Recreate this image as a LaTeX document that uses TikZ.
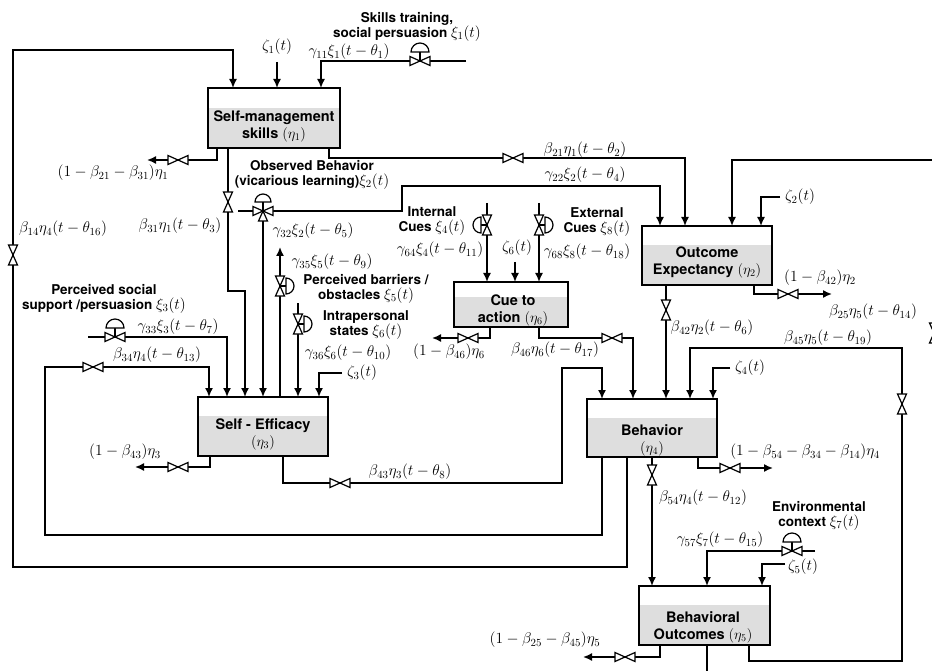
\RequirePackage{fix-cm}
\documentclass[tikz,border=0pt]{standalone}
\usepackage{fontspec}
\setsansfont{TeX Gyre Heros}
\usetikzlibrary{arrows.meta,calc,positioning}

\begin{document}
\begin{tikzpicture}[x=1pt,y=-1pt,>={Latex[length=9pt,width=8pt]},
  flow/.style={->,line width=1.6pt},
  block/.style={draw,line width=1.6pt,inner sep=0pt,outer sep=0pt,
    path picture={\fill[black!13] ($(path picture bounding box.north west)!0.33!(path picture bounding box.south west)$) rectangle (path picture bounding box.south east);}},
  boxtext/.style={font=\sffamily\bfseries\fontsize{14.5}{17}\selectfont,align=center,inner sep=0pt},
  tag/.style={font=\sffamily\bfseries\fontsize{13.5}{15}\selectfont,align=center,inner sep=0pt},
  eq/.style={font=\fontsize{15.5}{18}\selectfont,inner sep=0pt},
  valve/.pic={\filldraw[fill=white,line width=1.2pt] (-10,-4.5) -- (-10,4.5) -- (10,-4.5) -- (10,4.5) -- cycle;},
  ctrlvalve/.pic={
    \draw[line width=1.2pt] (0,0) -- (0,-9);
    \filldraw[fill=white,line width=1.2pt] (9,-9) arc[start angle=0,end angle=-180,radius=9] -- cycle;
    \pic {valve};},
  sidevalve/.pic={
    \draw[line width=1.2pt] (0,0) -- (6,0);
    \filldraw[fill=white,line width=1.2pt] (6,-8) -- (6,8) arc[start angle=90,end angle=-90,radius=8] -- cycle;
    \pic[rotate=90] {valve};},
  threeway/.pic={
    \draw[line width=1.2pt] (0,0) -- (0,-9);
    \filldraw[fill=white,line width=1.2pt] (8,-9) arc[start angle=0,end angle=-180,radius=8] -- cycle;
    \filldraw[fill=white,line width=1.2pt] (0,0) -- (-4.5,10) -- (4.5,10) -- cycle;
    \pic {valve};}]
  \useasboundingbox (0,0) rectangle (932,671);

  \node[block,minimum width=132pt,minimum height=60pt] (SM) at (274,118) {};
  \node[block,minimum width=130pt,minimum height=59pt] (OE) at (707,255.5) {};
  \node[block,minimum width=114pt,minimum height=45pt] (CA) at (511,304.5) {};
  \node[block,minimum width=130pt,minimum height=59pt] (SE) at (263,426.5) {};
  \node[block,minimum width=130pt,minimum height=58pt] (BH) at (652,428) {};
  \node[block,minimum width=131pt,minimum height=59pt] (BO) at (704.5,615.5) {};

  \node[boxtext] (SMt) at (274,126) {Self-management\\skills $(\eta_1)$};
  \node[boxtext] (OEt) at (707,262) {Outcome\\Expectancy $(\eta_2)$};
  \node[boxtext] (CAt) at (513,310) {Cue to\\action $(\eta_6)$};
  \node[boxtext] (SEt) at (263,434) {Self - Efficacy\\$(\eta_3)$};
  \node[boxtext] (BHt) at (652,440) {Behavior\\$(\eta_4)$};
  \node[boxtext] (BOt) at (703,627) {Behavioral\\Outcomes $(\eta_5)$};

  \coordinate (xi1in) at (466,61);
  \coordinate (xi2in) at (238,211);
  \coordinate (xi2v) at (263,211);
  \coordinate (xi3in) at (88,337);
  \coordinate (xi4in) at (487,203);
  \coordinate (xi5out) at (280,247);
  \coordinate (xi6in) at (298,303);
  \coordinate (xi7in) at (815,551);
  \coordinate (xi8in) at (539,203);
  \coordinate (z1) at (277,62);
  \coordinate (z2) at (780,197);
  \coordinate (z3) at (342,373);
  \coordinate (z4) at (730,368);
  \coordinate (z5) at (785,564);
  \coordinate (z6) at (515,262);
  \coordinate (o1) at (147,160);
  \coordinate (o2) at (832,294);
  \coordinate (o3) at (135,467);
  \coordinate (o4) at (773,468);
  \coordinate (o5) at (583,657);
  \coordinate (o6) at (432,338);

  \draw[flow] ([xshift=40]BH.south west) |- (13,567) |- (233,50) -- (233,50 |- SM.north);
  \draw[flow] ([xshift=15]BH.south west) |- (45,535) |- (209,367) -- (209,367 |- SE.north);
  \draw[flow] ([xshift=85]SE.south west) |- (562,483) |- (602,368) -- (602,368 |- BH.north);
  \draw[flow] ([xshift=68]BO.south west) |- (935,690) |- (732,160) -- (732,160 |- OE.north);
  \draw[flow] ([xshift=-21]BO.south east) |- (902,661) |- (690,348) -- (690,348 |- BH.north);

  \draw[flow] (xi1in) -| ([xshift=-19]SM.north east);
  \draw[flow] (z1) -- (z1 |- SM.north);
  \draw[flow] ([xshift=9]SM.south west) |- (o1);
  \draw[flow] ([xshift=20]SM.south west) |- (245,291) -- (245,291 |- SE.north);
  \draw[flow] ([xshift=-11]SM.south east) |- (685,158) -- (685,158 |- OE.north);

  \draw[flow] (xi2in) -- (402,211) |- (660,186) -- (660,186 |- OE.north);
  \draw[flow] (xi2v) -- (xi2v |- SE.north);
  \draw[flow] (xi3in) -| ([xshift=29]SE.north west);
  \draw[flow] (xi5out |- SE.north) -- (xi5out);
  \draw[flow] (xi6in) -- (xi6in |- SE.north);
  \draw[flow] (z3) -| ([xshift=-9]SE.north east);
  \draw[flow] ([xshift=12]SE.south west) |- (o3);

  \draw[flow] (xi4in) -- (xi4in |- CA.north);
  \draw[flow] (z6) -- (z6 |- CA.north);
  \draw[flow] (xi8in) -- (xi8in |- CA.north);
  \draw[flow] ([xshift=36]CA.south west) |- (o6);
  \draw[flow] ([xshift=85]CA.south west) |- (633,338) -- (633,338 |- BH.north);

  \draw[flow] (z2) -| ([xshift=-11]OE.north east);
  \draw[flow] ([xshift=24]OE.south west) -- ([xshift=24]OE.south west |- BH.north);
  \draw[flow] ([xshift=-18]OE.south east) |- (o2);

  \draw[flow] (z4) -| ([xshift=-4]BH.north east);
  \draw[flow] ([xshift=111]BH.south west) |- (o4);
  \draw[flow] (BH.south) -- (BH.south |- BO.north);

  \draw[flow] (xi7in) -| ([xshift=68]BO.north west);
  \draw[flow] (z5) -| ([xshift=-8]BO.north east);
  \draw[flow] ([xshift=21]BO.south west) |- (o5);

  \pic[rotate=90] at (13,255) {valve};
  \pic at (93,367) {valve};
  \pic at (340,483) {valve};
  \pic at (178,467) {valve};
  \pic at (178,160) {valve};
  \pic[rotate=90] at (228,202) {valve};
  \pic at (513,158) {valve};
  \pic at (420,61) {ctrlvalve};
  \pic at (xi2v) {threeway};
  \pic at (280,286) {sidevalve};
  \pic at (298,324) {sidevalve};
  \pic at (115,337) {ctrlvalve};
  \pic[xscale=-1] at (487,225) {sidevalve};
  \pic at (539,225) {sidevalve};
  \pic at (468,338) {valve};
  \pic at (612,338) {valve};
  \pic[rotate=90] at (666,310) {valve};
  \pic at (788,294) {valve};
  \pic[rotate=90] at (902,404) {valve};
  \pic at (730,468) {valve};
  \pic[rotate=90] at (652,475) {valve};
  \pic at (792,551) {ctrlvalve};
  \pic at (625,657) {valve};
  \pic[rotate=90] at (934,333) {valve};

  \node[tag] (lxi1) at (407,27) {Skills training,\\social persuasion {\fontsize{15.5}{18}\selectfont$\xi_1(t)$}};
  \node[eq] (lz1) at (277,47) {$\zeta_1(t)$};
  \node[eq] (lg11) at (349,52) {$\gamma_{11}\xi_1(t-\theta_1)$};
  \node[eq] (lo1) at (113,173) {$(1-\beta_{21}-\beta_{31})\eta_1$};
  \node[tag] (lxi2) at (312,175) {Observed Behavior\\(vicarious learning){\fontsize{15.5}{18}\selectfont$\xi_2(t)$}};
  \node[eq] (lb14) at (63,229) {$\beta_{14}\eta_4(t-\theta_{16})$};
  \node[eq] (lb31) at (180,226) {$\beta_{31}\eta_1(t-\theta_3)$};
  \node[eq] (lg32) at (313,231) {$\gamma_{32}\xi_2(t-\theta_5)$};
  \node[eq] (lg35) at (332,262) {$\gamma_{35}\xi_5(t-\theta_9)$};
  \node[tag] (lxi5) at (366,289) {Perceived barriers /\\obstacles {\fontsize{15.5}{18}\selectfont$\xi_5(t)$}};
  \node[tag] (lxi6) at (366,325) {Intrapersonal\\states {\fontsize{15.5}{18}\selectfont$\xi_6(t)$}};
  \node[eq] (lg36) at (348,353) {$\gamma_{36}\xi_6(t-\theta_{10})$};
  \node[eq] (lz3) at (362,373) {$\zeta_3(t)$};
  \node[tag] (lxi3) at (104,299) {Perceived social\\support /persuasion {\fontsize{15.5}{18}\selectfont$\xi_3(t)$}};
  \node[eq] (lg33) at (178,327) {$\gamma_{33}\xi_3(t-\theta_7)$};
  \node[eq] (lb34) at (157,355) {$\beta_{34}\eta_4(t-\theta_{13})$};
  \node[eq] (lo3) at (125,452) {$(1-\beta_{43})\eta_3$};
  \node[eq] (lb43) at (410,472) {$\beta_{43}\eta_3(t-\theta_8)$};
  \node[eq] (lb21) at (585,150) {$\beta_{21}\eta_1(t-\theta_2)$};
  \node[eq] (lg22) at (585,175) {$\gamma_{22}\xi_2(t-\theta_4)$};
  \node[tag] (lxi4) at (432,221) {Internal\\Cues {\fontsize{15.5}{18}\selectfont$\xi_4(t)$}};
  \node[eq] (lg64) at (440,250) {$\gamma_{64}\xi_4(t-\theta_{11})$};
  \node[eq] (lz6) at (517,248) {$\zeta_6(t)$};
  \node[tag] (lxi8) at (597,222) {External\\Cues {\fontsize{15.5}{18}\selectfont$\xi_8(t)$}};
  \node[eq] (lg68) at (587,252) {$\gamma_{68}\xi_8(t-\theta_{18})$};
  \node[eq] (lz2) at (800,197) {$\zeta_2(t)$};
  \node[eq] (lo2) at (820,278) {$(1-\beta_{42})\eta_2$};
  \node[eq] (lb25) at (873,312) {$\beta_{25}\eta_5(t-\theta_{14})$};
  \node[eq] (lb42) at (712,328) {$\beta_{42}\eta_2(t-\theta_6)$};
  \node[eq] (lb45) at (828,338) {$\beta_{45}\eta_5(t-\theta_{19})$};
  \node[eq] (lo6) at (449,352) {$(1-\beta_{46})\eta_6$};
  \node[eq] (lb46) at (555,350) {$\beta_{46}\eta_6(t-\theta_{17})$};
  \node[eq] (lz4) at (750,368) {$\zeta_4(t)$};
  \node[eq] (lo4) at (805,452) {$(1-\beta_{54}-\beta_{34}-\beta_{14})\eta_4$};
  \node[eq] (lb54) at (703,498) {$\beta_{54}\eta_4(t-\theta_{12})$};
  \node[tag] (lxi7) at (819,516) {Environmental\\context {\fontsize{15.5}{18}\selectfont$\xi_7(t)$}};
  \node[eq] (lg57) at (720,540) {$\gamma_{57}\xi_7(t-\theta_{15})$};
  \node[eq] (lz5) at (803,567) {$\zeta_5(t)$};
  \node[eq] (lo5) at (545,640) {$(1-\beta_{25}-\beta_{45})\eta_5$};
\end{tikzpicture}
\end{document}
